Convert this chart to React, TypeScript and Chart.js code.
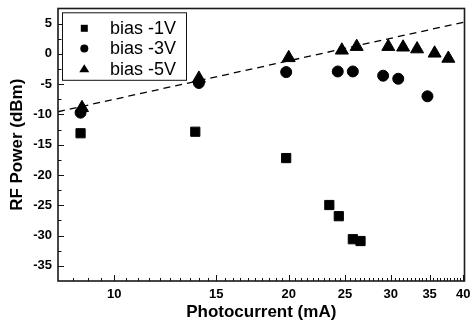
import { useEffect, useRef } from "react";
import { Chart, registerables } from "chart.js";

Chart.register(...registerables);

// ---- data ----
const bias1Label = "bias -1V";
const bias1Current = [8.75, 13.8, 19.8, 23.5, 24.4, 25.8, 26.6];
const bias1Power = [-13.1, -12.85, -17.2, -24.95, -26.8, -30.6, -30.9];

const bias3Label = "bias -3V";
const bias3Current = [8.75, 14.0, 19.8, 24.3, 25.8, 29.1, 30.9, 34.7];
const bias3Power = [-9.7, -4.8, -3.0, -2.9, -2.9, -3.6, -4.1, -7.0];

const bias5Label = "bias -5V";
const bias5Current = [8.8, 14.0, 20.0, 24.7, 26.2, 29.7, 31.5, 33.3, 35.7, 37.7];
const bias5Power = [-8.9, -4.05, -0.65, 0.6, 1.2, 1.2, 1.1, 0.8, 0.1, -0.75];

const fitCurrent = [8, 40.2];
const fitPower = [-9.55, 5.27];

const xTickValues = [10, 15, 20, 25, 30, 35, 40];
const yTickValues = [-35, -30, -25, -20, -15, -10, -5, 0, 5];
const xMinorTicks = [
  8.5, 9, 9.5, 10.5, 11, 11.5, 12, 12.5, 13, 13.5, 14, 14.5, 15.5, 16, 16.5, 17,
  17.5, 18, 18.5, 19, 19.5, 20.5, 21, 21.5, 22, 22.5, 23, 23.5, 24, 24.5, 25.5, 26,
  26.5, 27, 27.5, 28, 28.5, 29, 29.5, 30.5, 31, 31.5, 32, 32.5, 33, 33.5, 34, 34.5,
  35.5, 36, 36.5, 37, 37.5, 38, 38.5, 39, 39.5,
];
const yMinorTicks = [-32.5, -27.5, -22.5, -17.5, -12.5, -7.5, -2.5, 2.5];

const FONT = "'Liberation Sans', Arial, Helvetica, sans-serif";

const toPoints = (xs: number[], ys: number[]) => xs.map((x, i) => ({ x, y: ys[i] }));

const decorPlugin = {
  id: "decor",
  afterDatasetsDraw(chart: any) {
    const { ctx, chartArea: a, scales } = chart;
    const x = scales.x;
    const y = scales.y;
    ctx.save();
    ctx.strokeStyle = "#111";
    ctx.lineWidth = 1;
    ctx.beginPath();
    for (const v of xTickValues) {
      const px = Math.round(x.getPixelForValue(v)) + 0.5;
      ctx.moveTo(px, a.bottom);
      ctx.lineTo(px, a.bottom - 6);
    }
    for (const v of xMinorTicks) {
      const px = Math.round(x.getPixelForValue(v)) + 0.5;
      ctx.moveTo(px, a.bottom);
      ctx.lineTo(px, a.bottom - 3);
    }
    for (const v of yTickValues) {
      const py = Math.round(y.getPixelForValue(v)) + 0.5;
      ctx.moveTo(a.left, py);
      ctx.lineTo(a.left + 6, py);
    }
    for (const v of yMinorTicks) {
      const py = Math.round(y.getPixelForValue(v)) + 0.5;
      ctx.moveTo(a.left, py);
      ctx.lineTo(a.left + 3.5, py);
    }
    ctx.stroke();

    // frame
    ctx.lineWidth = 1.6;
    ctx.strokeStyle = "#1a1a1a";
    ctx.strokeRect(a.left, a.top, a.right - a.left, a.bottom - a.top);

    // legend
    const lx = a.left + 4.5;
    const ly = a.top + 4.3;
    const lw = 124;
    const lh = 67.5;
    ctx.fillStyle = "#fff";
    ctx.fillRect(lx, ly, lw, lh);
    ctx.lineWidth = 1;
    ctx.strokeStyle = "#111";
    ctx.strokeRect(lx, ly, lw, lh);
    const rows = [
      { label: bias1Label, style: "rect" },
      { label: bias3Label, style: "circle" },
      { label: bias5Label, style: "triangle" },
    ];
    ctx.fillStyle = "#000";
    ctx.font = `18px ${FONT}`;
    ctx.textBaseline = "middle";
    ctx.textAlign = "left";
    rows.forEach((r, i) => {
      const cy = ly + 15.5 + i * 20.2;
      const cx = lx + 21.8;
      ctx.beginPath();
      if (r.style === "rect") {
        ctx.rect(cx - 3.5, cy - 3.5, 7, 7);
      } else if (r.style === "circle") {
        ctx.arc(cx, cy, 4, 0, Math.PI * 2);
      } else {
        ctx.moveTo(cx, cy - 4.5);
        ctx.lineTo(cx + 5, cy + 3.5);
        ctx.lineTo(cx - 5, cy + 3.5);
        ctx.closePath();
      }
      ctx.fill();
      ctx.fillText(r.label, lx + 47.5, cy + 1);
    });
    ctx.restore();
  },
};

export default function App() {
  const canvasRef = useRef<HTMLCanvasElement | null>(null);

  useEffect(() => {
    const canvas = canvasRef.current;
    if (!canvas) return;
    const chart = new Chart(canvas, {
      type: "scatter",
      data: {
        datasets: [
          {
            label: bias1Label,
            data: toPoints(bias1Current, bias1Power),
            pointStyle: "rect",
            pointRadius: 6.5,
            backgroundColor: "#000",
            borderColor: "#000",
            borderWidth: 1,
            order: 1,
          },
          {
            label: bias3Label,
            data: toPoints(bias3Current, bias3Power),
            pointStyle: "circle",
            pointRadius: 5.5,
            backgroundColor: "#000",
            borderColor: "#000",
            borderWidth: 1,
            order: 1,
          },
          {
            label: bias5Label,
            data: toPoints(bias5Current, bias5Power),
            pointStyle: "triangle",
            pointRadius: 7.5,
            backgroundColor: "#000",
            borderColor: "#000",
            borderWidth: 1,
            order: 1,
          },
          {
            label: "fit",
            data: toPoints(fitCurrent, fitPower),
            showLine: true,
            pointRadius: 0,
            borderColor: "#000",
            borderWidth: 1.3,
            borderDash: [7, 5],
            fill: false,
            order: 10,
          } as any,
        ],
      },
      plugins: [decorPlugin],
      options: {
        responsive: false,
        animation: false,
        devicePixelRatio: 1,
        layout: { padding: { top: 8, right: 5.8, left: 0, bottom: 0 } },
        plugins: {
          legend: { display: false },
          tooltip: { enabled: false },
        },
        scales: {
          x: {
            type: "logarithmic",
            min: 8,
            max: 40.2,
            afterFit: (s: any) => {
              s.height = 42;
              s.paddingLeft = 0;
              s.paddingRight = 0;
            },
            afterBuildTicks: (s: any) => {
              s.ticks = xTickValues.map((v) => ({ value: v }));
            },
            grid: { display: false, drawTicks: false },
            border: { display: false },
            ticks: {
              padding: 6,
              color: "#000",
              font: { family: FONT, size: 13, weight: "bold" },
              callback: (v: any) => String(v),
              autoSkip: false,
              maxRotation: 0,
            },
            title: {
              display: true,
              text: "Photocurrent (mA)",
              color: "#000",
              font: { family: FONT, size: 17, weight: "bold" },
              padding: { top: 0, bottom: 0 },
            },
          },
          y: {
            type: "linear",
            min: -37.5,
            max: 7.5,
            afterFit: (s: any) => {
              s.width = 58;
              s.paddingTop = 0;
              s.paddingBottom = 0;
            },
            afterBuildTicks: (s: any) => {
              s.ticks = yTickValues.map((v) => ({ value: v }));
            },
            grid: { display: false, drawTicks: false },
            border: { display: false },
            ticks: {
              padding: 6,
              color: "#000",
              font: { family: FONT, size: 13, weight: "bold" },
              callback: (v: any) => String(v),
              autoSkip: false,
            },
            title: {
              display: true,
              text: "RF Power (dBm)",
              color: "#000",
              font: { family: FONT, size: 17, weight: "bold" },
              padding: { top: 7.5, bottom: 0 },
            },
          },
        },
      } as any,
    });
    return () => chart.destroy();
  }, []);

  return (
    <div style={{ position: "fixed", left: 0, top: 0, width: 473, height: 323, background: "#fff" }}>
      <canvas ref={canvasRef} width={473} height={323} style={{ width: 473, height: 323 }} />
    </div>
  );
}
